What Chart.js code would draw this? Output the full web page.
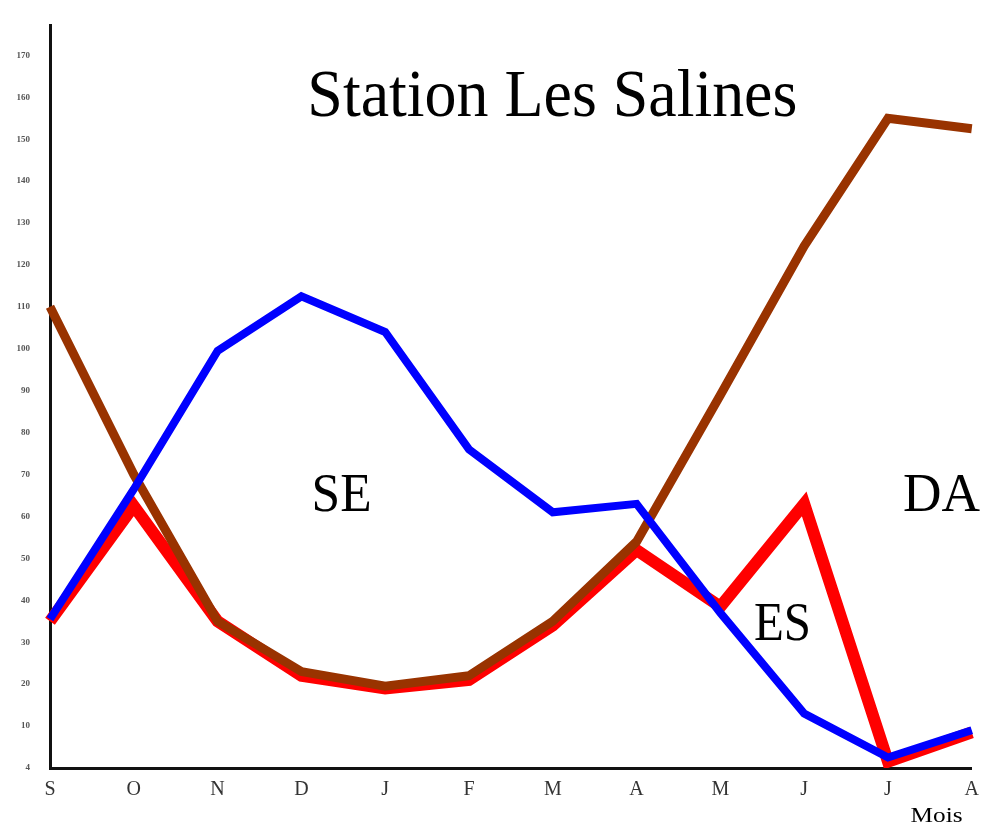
<!DOCTYPE html>
<html>
<head>
<meta charset="utf-8">
<title>Station Les Salines</title>
<script src="https://cdn.jsdelivr.net/npm/chart.js@4/dist/chart.umd.min.js"></script>
<style>
  html, body { margin: 0; padding: 0; background: #fff; }
  #wrap { width: 989px; height: 830px; }
</style>
</head>
<body>
<div id="wrap"><canvas id="lineChart" width="989" height="830"></canvas></div>
<script>
// ---------------------------------------------------------------------------
// Data (months Sept -> Aug)
// ---------------------------------------------------------------------------
const months = ['S', 'O', 'N', 'D', 'J', 'F', 'M', 'A', 'M', 'J', 'J', 'A'];

// SE (blue)
const seValues = [35.5, 66.5, 99.5, 112.5, 104, 76, 61, 63, 37, 13, 2.5, 9];
// DA (brown)
const daValues = [110, 70, 35, 23, 19.5, 22, 35, 54, 89, 124.5, 155, 152.5];
// ES (red)
const esValues = [35, 62.5, 35, 22, 19, 21, 34, 52, 38.5, 63, 1.5, 8.5];

// y axis ticks as printed on the original (bottom one reads "4")
const yTickValues = [0, 10, 20, 30, 40, 50, 60, 70, 80, 90, 100, 110, 120, 130, 140, 150, 160, 170];
const yTickLabels = ['4', '10', '20', '30', '40', '50', '60', '70', '80', '90', '100', '110', '120', '130', '140', '150', '160', '170'];

// free text on the plot, anchored in data coordinates (x = month index, y = value at baseline)
// width = wanted text width, the glyphs get squeezed sideways to fit it
const notes = [
  { text: 'Station Les Salines', x: 5.995, y: 155.5, size: 68, width: 490 },
  { text: 'SE', x: 3.48, y: 61.4, size: 54, width: 60 },
  { text: 'ES', x: 8.74, y: 30.5, size: 54, width: 57 },
  { text: 'DA', x: 10.64, y: 61.4, size: 54, width: 77 },
  { text: 'Mois', x: 10.58, y: -12.9, size: 22, width: 52 }
];

const serif = '"Liberation Serif", "DejaVu Serif", serif';

// draws the loose labels on top of the chart
const notesPlugin = {
  id: 'notes',
  afterDraw(chart) {
    const c = chart.ctx;
    const xs = chart.scales.x;
    const ys = chart.scales.y;
    notes.forEach(n => {
      c.save();
      c.fillStyle = '#000';
      c.textAlign = 'center';
      c.textBaseline = 'alphabetic';
      c.font = n.size + 'px ' + serif;
      const sx = n.width / c.measureText(n.text).width;
      c.translate(xs.getPixelForValue(n.x), ys.getPixelForValue(n.y));
      c.scale(sx, 1);
      c.fillText(n.text, 0, 0);
      c.restore();
    });
  }
};

const lineStyle = (color, width) => ({
  borderColor: color,
  backgroundColor: color,
  borderWidth: width,
  fill: false,
  tension: 0,
  pointRadius: 0,
  borderJoinStyle: 'miter',
  borderCapStyle: 'butt'
});

// dataset 0 is painted last, so blue sits on top and red at the bottom
const chartData = {
  labels: months,
  datasets: [
    Object.assign({ label: 'SE', data: seValues }, lineStyle('#0000ff', 8)),
    Object.assign({ label: 'DA', data: daValues }, lineStyle('#993300', 9)),
    Object.assign({ label: 'ES', data: esValues }, lineStyle('#ff0000', 12))
  ]
};

const chartConfig = {
  type: 'line',
  data: chartData,
  plugins: [notesPlugin],
  options: {
    responsive: false,
    animation: false,
    layout: { autoPadding: false, padding: { left: 0, right: 16, top: 0, bottom: 0 } },
    plugins: {
      legend: { display: false },
      tooltip: { enabled: false },
      title: { display: false }
    },
    scales: {
      x: {
        offset: false,
        grid: { display: false, drawTicks: false },
        border: { display: true, color: '#111', width: 3 },
        ticks: {
          color: '#333',
          font: { family: serif, size: 20 },
          padding: 10,
          maxRotation: 0,
          autoSkip: false
        },
        afterFit(scale) { scale.height = 62; }
      },
      y: {
        min: 0,
        max: 177.14,
        grid: { display: false, drawTicks: false },
        border: { display: true, color: '#111', width: 3 },
        afterBuildTicks(scale) {
          scale.ticks = yTickValues.map(v => ({ value: v }));
        },
        ticks: {
          color: '#555',
          font: { family: serif, size: 9, weight: 'bold' },
          padding: 20,
          callback(value) {
            const i = yTickValues.indexOf(value);
            return i >= 0 ? yTickLabels[i] : '';
          }
        },
        afterFit(scale) { scale.width = 50; }
      }
    }
  }
};

const ctx = document.getElementById('lineChart').getContext('2d');
const lineChart = new Chart(ctx, chartConfig);
</script>
</body>
</html>
